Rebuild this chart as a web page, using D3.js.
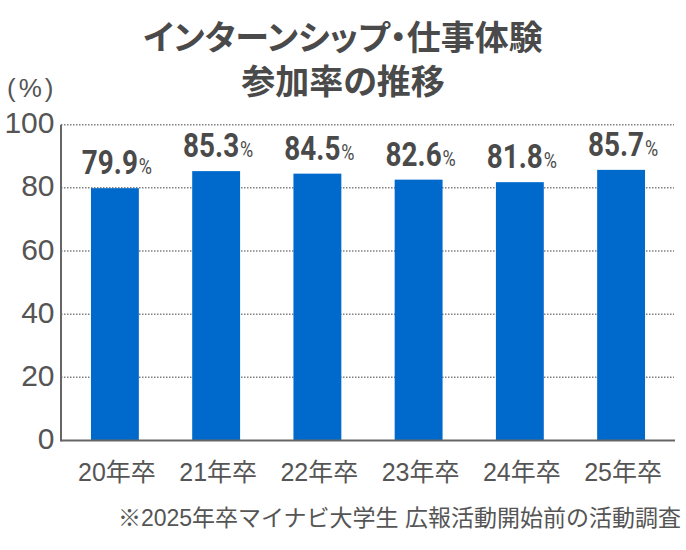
<!DOCTYPE html>
<html><head><meta charset="utf-8">
<script src="https://cdn.jsdelivr.net/npm/d3@7/dist/d3.min.js"></script>
<style>
html,body{margin:0;padding:0;background:#fff;}
svg{display:block;}
</style>
</head><body>
<svg id="chart" width="686" height="550"></svg>
<script>
const categories = ["20年卒","21年卒","22年卒","23年卒","24年卒","25年卒"];
const values = [79.9, 85.3, 84.5, 82.6, 81.8, 85.7];
const yTicks = [0, 20, 40, 60, 80, 100];
const titleLines = ["インターンシップ・仕事体験", "参加率の推移"];
const unitLabel = "(%)";
const footnote = "※2025年卒マイナビ大学生 広報活動開始前の活動調査";

const svg = d3.select("#chart");
const W = 686, H = 550;
const margin = {left: 61, right: 11, top: 124.7, bottom: 109.5};
const x0 = margin.left, x1 = W - margin.right;
const yTop = margin.top, yBot = H - margin.bottom;

const x = d3.scaleBand().domain(categories).range([x0, x1]).paddingInner(0.527).paddingOuter(0.296);
const y = d3.scaleLinear().domain([0, 100]).range([yBot, yTop]);

const cjk = "'Noto Sans CJK JP', 'Noto Sans CJK SC', sans-serif";
const latin = "'Liberation Sans', Arial, 'Noto Sans CJK JP', sans-serif";

// Title (one text element, two lines)
svg.append("text")
  .attr("text-anchor", "middle")
  .style("font-family", cjk).style("font-weight", 700).style("font-size", "34px")
  .style("font-feature-settings", "'palt' 1")
  .attr("fill", "#4a4a4a")
  .selectAll("tspan").data(titleLines).join("tspan")
  .attr("x", 343).attr("y", (d,i) => 50 + i*43.5)
  .text(d => d);

// Unit label
svg.append("text").attr("x", 7).attr("y", 96.5).attr("text-anchor", "start")
  .style("font-family", latin).style("font-size", "26px").style("letter-spacing", "3px")
  .attr("fill", "#555").text(unitLabel);

// Gridlines
svg.append("g").selectAll("line").data(yTicks.filter(t => t > 0)).join("line")
  .attr("x1", x0).attr("x2", x1 - 1).attr("y1", d => y(d)).attr("y2", d => y(d))
  .attr("stroke", "#808080").attr("stroke-width", 1.5).attr("stroke-dasharray", "1.5 1.5");

// Y tick labels
svg.append("g").selectAll("text").data(yTicks).join("text")
  .attr("x", 54.5).attr("y", d => y(d) + 8.6)
  .attr("text-anchor", "end")
  .style("font-family", latin).style("font-size", "30px")
  .attr("fill", "#555").text(d => d);

// Bars
svg.append("g").selectAll("rect").data(values).join("rect")
  .attr("x", (d,i) => x(categories[i]))
  .attr("width", x.bandwidth())
  .attr("y", d => y(d))
  .attr("height", d => y(0) - y(d))
  .attr("fill", "#006acc");

// Axes lines
svg.append("line").attr("x1", x0).attr("x2", x0).attr("y1", yTop).attr("y2", yBot + 1)
  .attr("stroke", "#666").attr("stroke-width", 2);
svg.append("line").attr("x1", x0).attr("x2", x1).attr("y1", yBot).attr("y2", yBot)
  .attr("stroke", "#666").attr("stroke-width", 2);

// Value labels
const vl = svg.append("g").selectAll("text").data(values).join("text")
  .attr("transform", (d,i) => `translate(${x(categories[i]) + x.bandwidth()/2 + 2},${y(d) - 14}) scale(0.82,1)`)
  .attr("text-anchor", "middle")
  .attr("fill", "#4a4a4a")
  .style("font-family", "Roboto, 'Liberation Sans', sans-serif");
vl.append("tspan").style("font-weight", 700).style("font-size", "34px").text(d => d.toFixed(1));
vl.append("tspan").style("font-weight", 400).style("font-size", "22px").attr("dx", 1).text("%");

// X labels
svg.append("g").selectAll("text").data(categories).join("text")
  .attr("x", d => x(d) + x.bandwidth()/2 + 2).attr("y", 481)
  .attr("text-anchor", "middle")
  .style("font-family", latin).style("font-size", "25px")
  .attr("fill", "#555").text(d => d);

// Footnote
svg.append("text").attr("x", 681).attr("y", 526).attr("text-anchor", "end")
  .style("font-family", latin).style("font-size", "23px")
  .attr("fill", "#555").text(footnote);
</script>
</body></html>
